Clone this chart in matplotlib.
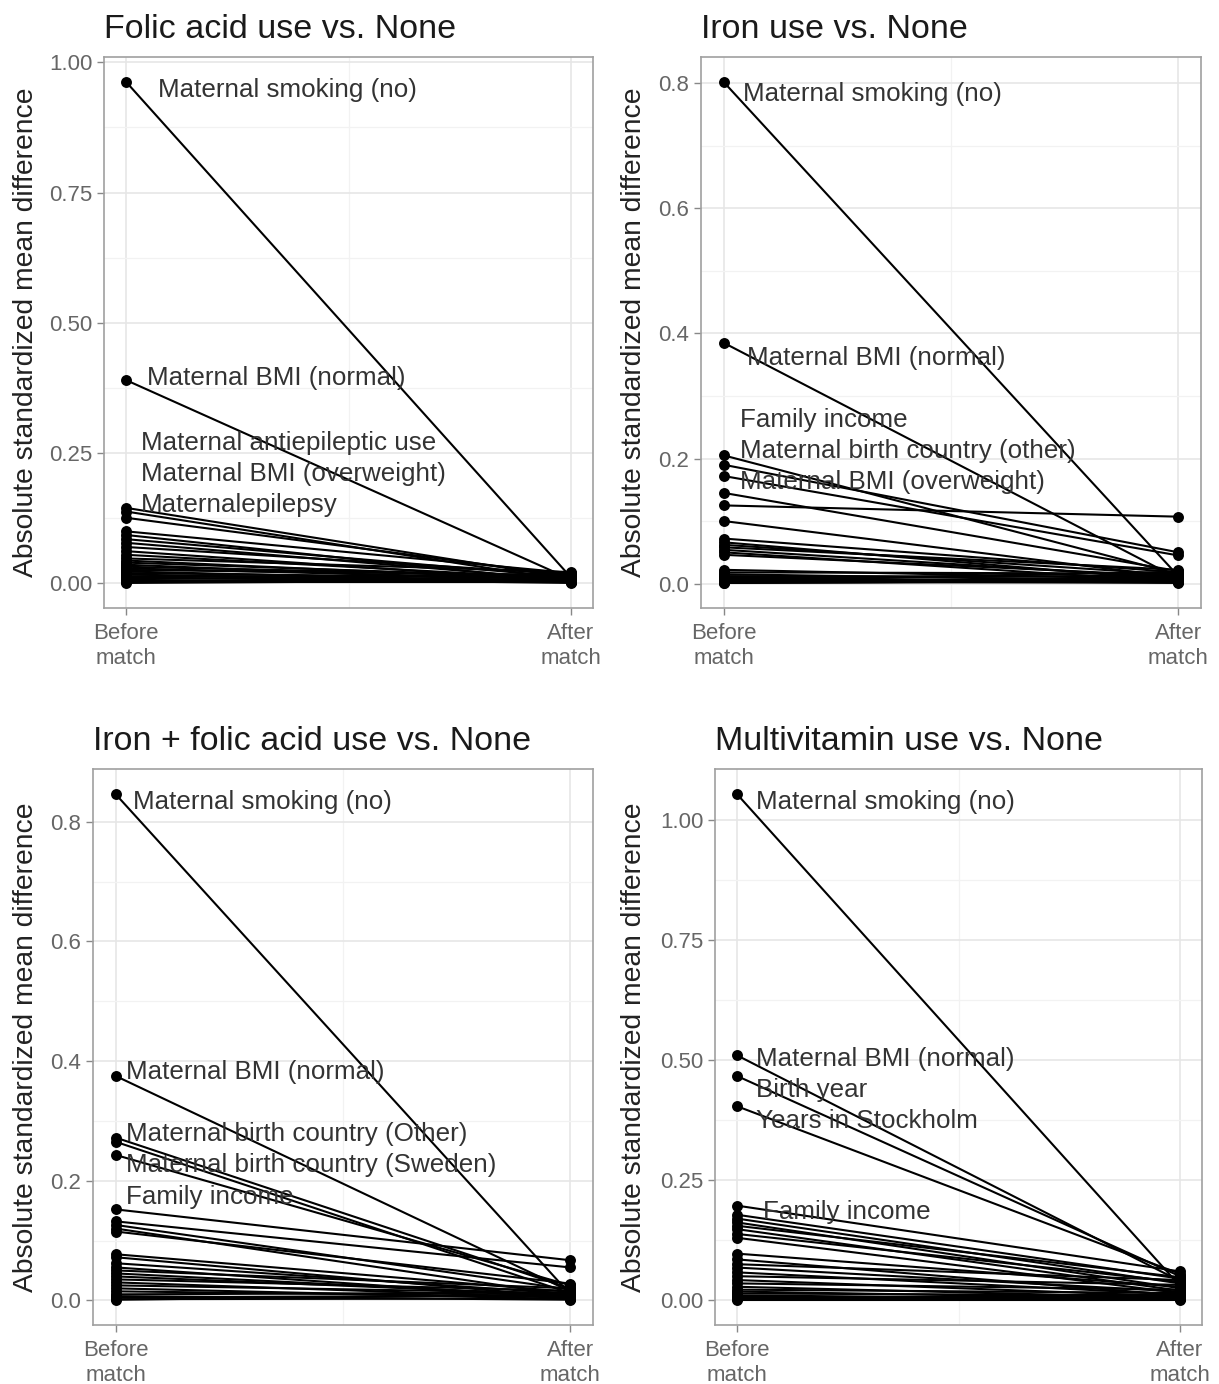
import matplotlib
matplotlib.use("Agg")
import matplotlib.pyplot as plt
import numpy as np
from matplotlib.ticker import FixedLocator, FormatStrFormatter

# ---------------- data ----------------
titles = ["Folic acid use vs. None", "Iron use vs. None",
          "Iron + folic acid use vs. None", "Multivitamin use vs. None"]
x_labels = ["Before\nmatch", "After\nmatch"]

folic_before = [0.962, 0.390, 0.145, 0.138, 0.126, 0.100, 0.093, 0.085, 0.078, 0.070,
                0.062, 0.055, 0.048, 0.044, 0.040, 0.036, 0.032, 0.029, 0.026, 0.023,
                0.020, 0.017, 0.014, 0.012, 0.010, 0.008, 0.006, 0.004, 0.002, 0.001]
folic_after = [0.012, 0.008, 0.010, 0.005, 0.015, 0.020, 0.003, 0.012, 0.007, 0.018,
               0.004, 0.009, 0.022, 0.006, 0.011, 0.002, 0.014, 0.008, 0.016, 0.003,
               0.010, 0.005, 0.013, 0.001, 0.007, 0.019, 0.004, 0.009, 0.002, 0.006]
folic_labels = ["Maternal smoking (no)", "Maternal BMI (normal)",
                "Maternal antiepileptic use", "Maternal BMI (overweight)",
                "Maternalepilepsy"]

iron_before = [0.802, 0.385, 0.205, 0.190, 0.172, 0.145, 0.125, 0.100, 0.072, 0.066,
               0.062, 0.058, 0.054, 0.050, 0.046, 0.022, 0.018, 0.015, 0.012, 0.010,
               0.008, 0.006, 0.005, 0.004, 0.003, 0.002, 0.001, 0.001]
iron_after = [0.012, 0.008, 0.015, 0.050, 0.045, 0.020, 0.107, 0.010, 0.018, 0.005,
              0.014, 0.022, 0.009, 0.003, 0.012, 0.007, 0.016, 0.004, 0.011, 0.002,
              0.013, 0.006, 0.019, 0.001, 0.008, 0.010, 0.003, 0.005]
iron_labels = ["Maternal smoking (no)", "Maternal BMI (normal)", "Family income",
               "Maternal birth country (other)", "Maternal BMI (overweight)"]

ironfolic_before = [0.846, 0.375, 0.272, 0.265, 0.243, 0.152, 0.132, 0.126, 0.120, 0.115,
                    0.077, 0.072, 0.062, 0.055, 0.050, 0.045, 0.040, 0.035, 0.030, 0.025,
                    0.020, 0.015, 0.010, 0.007, 0.005, 0.002, 0.001]
ironfolic_after = [0.010, 0.015, 0.020, 0.012, 0.025, 0.067, 0.055, 0.018, 0.008, 0.028,
                   0.014, 0.005, 0.011, 0.003, 0.020, 0.007, 0.009, 0.016, 0.004, 0.012,
                   0.002, 0.006, 0.013, 0.001, 0.008, 0.003, 0.010]
ironfolic_labels = ["Maternal smoking (no)", "Maternal BMI (normal)",
                    "Maternal birth country (Other)", "Maternal birth country (Sweden)",
                    "Family income"]

multi_before = [1.054, 0.510, 0.467, 0.404, 0.197, 0.178, 0.170, 0.162, 0.155, 0.148,
                0.138, 0.130, 0.097, 0.085, 0.075, 0.068, 0.058, 0.050, 0.042, 0.035,
                0.028, 0.022, 0.018, 0.014, 0.010, 0.007, 0.005, 0.003, 0.001]
multi_after = [0.030, 0.040, 0.050, 0.055, 0.060, 0.045, 0.035, 0.025, 0.048, 0.020,
               0.038, 0.015, 0.028, 0.010, 0.042, 0.018, 0.012, 0.032, 0.008, 0.022,
               0.005, 0.015, 0.003, 0.010, 0.002, 0.007, 0.004, 0.012, 0.001]
multi_labels = ["Maternal smoking (no)", "Maternal BMI (normal)", "Birth year",
                "Years in Stockholm", "Family income"]

yticks_list = [[0, 0.25, 0.5, 0.75, 1.0], [0, 0.2, 0.4, 0.6, 0.8],
               [0, 0.2, 0.4, 0.6, 0.8], [0, 0.25, 0.5, 0.75, 1.0]]
yfmt_list = ["%.2f", "%.1f", "%.1f", "%.2f"]

# ---------------- layout / style ----------------
W, H = 1219, 1384
# axes boxes in pixels: left, top, right, bottom
boxes = [(104, 57, 593, 608), (701, 57, 1201, 608),
         (93, 769, 593, 1325), (715, 769, 1202, 1325)]
ylabel_x = [39, 647, 39, 647]
# label anchor positions (data coords, ggrepel-like placement)
label_pos = [
    [(0.072, 0.947), (0.047, 0.394), (0.034, 0.270), (0.034, 0.210), (0.034, 0.150)],
    [(0.042, 0.783), (0.051, 0.361), (0.035, 0.261), (0.035, 0.212), (0.035, 0.162)],
    [(0.037, 0.833), (0.022, 0.382), (0.022, 0.278), (0.022, 0.226), (0.022, 0.172)],
    [(0.043, 1.037), (0.043, 0.502), (0.043, 0.4375), (0.043, 0.373), (0.059, 0.183)],
]

plt.rcParams['font.family'] = ['Liberation Sans', 'DejaVu Sans']

panels = [(folic_before, folic_after, folic_labels),
          (iron_before, iron_after, iron_labels),
          (ironfolic_before, ironfolic_after, ironfolic_labels),
          (multi_before, multi_after, multi_labels)]

fig = plt.figure(figsize=(W / 100, H / 100), dpi=100)
fig.patch.set_facecolor("white")

for i, (before, after, labels) in enumerate(panels):
    l, t, r, b = boxes[i]
    ax = fig.add_axes([l / W, 1 - b / H, (r - l) / W, (b - t) / H])
    before = np.asarray(before)
    after = np.asarray(after)
    for yb, ya in zip(before, after):
        ax.plot([0, 1], [yb, ya], color="black", lw=1.5, solid_capstyle="round", zorder=3)
    ax.scatter(np.zeros_like(before), before, s=62, color="black", zorder=4, linewidths=0)
    ax.scatter(np.ones_like(after), after, s=62, color="black", zorder=4, linewidths=0)

    allv = np.concatenate([before, after])
    lo, hi = allv.min(), allv.max()
    rng = hi - lo
    ax.set_ylim(lo - 0.05 * rng, hi + 0.05 * rng)
    ax.set_xlim(-0.05, 1.05)

    yt = yticks_list[i]
    ax.yaxis.set_major_locator(FixedLocator(yt))
    ax.yaxis.set_major_formatter(FormatStrFormatter(yfmt_list[i]))
    minors = [(yt[k] + yt[k + 1]) / 2 for k in range(len(yt) - 1)]
    minors.append(yt[-1] + (yt[1] - yt[0]) / 2)
    ax.yaxis.set_minor_locator(FixedLocator(minors))
    ax.set_xticks([0, 1])
    ax.set_xticklabels(x_labels)
    ax.xaxis.set_minor_locator(FixedLocator([0.5]))

    ax.grid(True, which="major", color="#e6e6e6", lw=1.2, zorder=0)
    ax.grid(True, which="minor", color="#f2f2f2", lw=0.9, zorder=0)
    ax.set_axisbelow(True)
    for sp in ax.spines.values():
        sp.set_color("#a0a0a0")
        sp.set_linewidth(1.2)
    ax.tick_params(axis="both", which="major", colors="#888888", labelcolor="#666666",
                   labelsize=16, length=5, width=1)
    ax.tick_params(axis="x", which="major", pad=6)
    ax.tick_params(axis="both", which="minor", length=0)
    for lab in ax.get_xticklabels():
        lab.set_linespacing(1.25)

    ax.set_title(titles[i], loc="left", fontsize=24.5, color="#1a1a1a", pad=14)
    ax.set_ylabel("Absolute standardized mean difference", fontsize=20.3, color="#222222")
    ax.yaxis.set_label_coords((ylabel_x[i] - l) / (r - l), 0.5)

    for name, (lx, ly) in zip(labels, label_pos[i]):
        ax.text(lx, ly, name, fontsize=18.7, color="#333333", ha="left", va="center",
                zorder=5)

fig.savefig("out.png", dpi=100, facecolor="white")
